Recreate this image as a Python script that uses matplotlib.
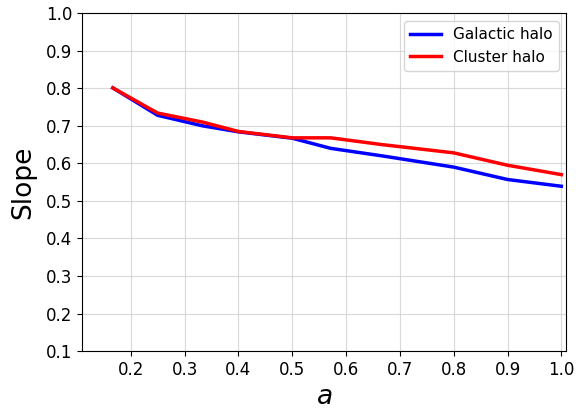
import matplotlib
matplotlib.use("Agg")
import matplotlib.pyplot as plt

a_values = [1 / 6, 0.25, 1 / 3, 0.4, 0.5, 4 / 7, 2 / 3, 0.8, 0.9, 1.0]
galactic_slope = [0.801, 0.728, 0.700, 0.684, 0.667, 0.640, 0.620, 0.590, 0.557, 0.539]
cluster_slope = [0.801, 0.734, 0.710, 0.685, 0.668, 0.668, 0.650, 0.628, 0.595, 0.570]

fig, ax = plt.subplots(figsize=(5.76, 4.13), dpi=100)
ax.plot(a_values, galactic_slope, color="blue", lw=2.5, label="Galactic halo")
ax.plot(a_values, cluster_slope, color="red", lw=2.5, label="Cluster halo")

ax.set_xlim(0.109, 1.009)
ax.set_ylim(0.1, 1.0)
ax.set_xticks([0.2, 0.3, 0.4, 0.5, 0.6, 0.7, 0.8, 0.9, 1.0])
ax.set_yticks([0.1, 0.2, 0.3, 0.4, 0.5, 0.6, 0.7, 0.8, 0.9, 1.0])
ax.tick_params(labelsize=12)
ax.grid(True, color="#d0d0d0", lw=0.8, alpha=0.8)
ax.set_xlabel("$a$", fontsize=19)
ax.set_ylabel("Slope", fontsize=19, labelpad=7)
ax.legend(loc="upper right", fontsize=11)

fig.subplots_adjust(left=0.142, right=0.983, top=0.968, bottom=0.15)
fig.savefig("out.png", dpi=100)
